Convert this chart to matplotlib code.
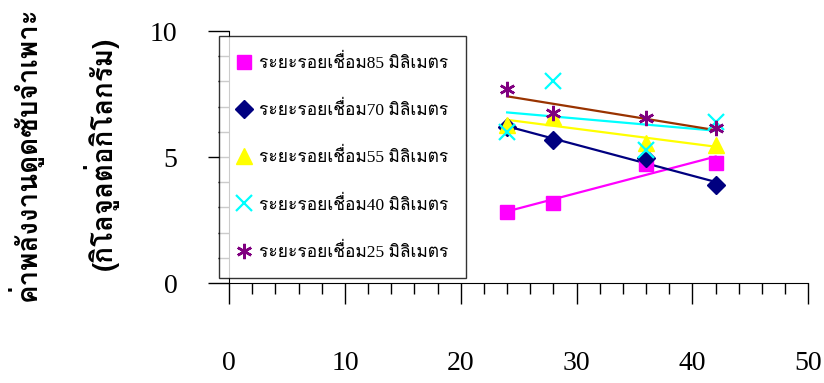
import numpy as np
import matplotlib
matplotlib.use("Agg")
import matplotlib.pyplot as plt
from matplotlib import font_manager
from matplotlib.ft2font import FT2Font

# Weld spacing series: lap length (x) vs specific absorbed energy (kJ/kg)
x_vals = [24, 28, 36, 42]
e85 = [2.83, 3.16, 4.72, 4.77]
e70 = [6.20, 5.67, 4.95, 3.89]
e55 = [6.27, 6.60, 5.54, 5.48]
e40 = [6.00, 8.03, 5.28, 6.40]
e25 = [7.70, 6.73, 6.53, 6.14]

labels = [
    "ระยะรอยเชื่อม85 มิลิเมตร",
    "ระยะรอยเชื่อม70 มิลิเมตร",
    "ระยะรอยเชื่อม55 มิลิเมตร",
    "ระยะรอยเชื่อม40 มิลิเมตร",
    "ระยะรอยเชื่อม25 มิลิเมตร",
]
ylabel_1 = "ค่าพลังงานดูดซับจำเพาะ"
ylabel_2 = "(กิโลจูลต่อกิโลกรัม)"
x_ticks = [0, 10, 20, 30, 40, 50]
y_ticks = [0, 5, 10]


def thai_families():
    found = []
    for f in font_manager.fontManager.ttflist:
        try:
            cmap = FT2Font(f.fname).get_charmap()
        except Exception:
            continue
        if 0x0E01 in cmap and 0x0E40 in cmap and f.name not in found:
            found.append(f.name)
    return found


thai = thai_families()
serif_list = ["Liberation Serif"] + thai + ["DejaVu Sans"]
bold_list = thai + ["DejaVu Sans"]
plt.rcParams["font.family"] = serif_list

fig = plt.figure(figsize=(8.24, 3.83), dpi=100)
ax = fig.add_axes([0.278, 0.261, 0.703, 0.658])

series = [e85, e70, e55, e40, e25]
colors = ["#FF00FF", "#000080", "#FFFF00", "#00FFFF", "#800080"]
trend_colors = ["#FF00FF", "#000080", "#FFFF00", "#00FFFF", "#993300"]
markers = ["s", "D", "^", "x", "*6"]
msizes = [10, 9, 11, 11, 11]

xs = np.array(x_vals, dtype=float)
handles = []
for ys, c, tc, m, ms, lab in zip(series, colors, trend_colors, markers, msizes, labels):
    ys = np.array(ys, dtype=float)
    k, b = np.polyfit(xs, ys, 1)
    ax.plot([xs.min(), xs.max()], [k * xs.min() + b, k * xs.max() + b],
            color=tc, lw=1.6, zorder=2)
    if m == "x":
        h, = ax.plot(xs, ys, ls="none", marker="x", ms=ms, mew=1.6, color=c,
                     zorder=3, label=lab)
    elif m == "*6":
        h, = ax.plot(xs, ys, ls="none", marker=(6, 2, 0), ms=ms, mew=1.8,
                     color=c, zorder=3, label=lab)
    else:
        h, = ax.plot(xs, ys, ls="none", marker=m, ms=ms, color=c, mec=c,
                     zorder=3, label=lab)
    handles.append(h)

ax.set_xlim(0, 50)
ax.set_ylim(0, 10)
ax.spines["top"].set_visible(False)
ax.spines["right"].set_visible(False)
ax.spines["left"].set_position(("data", 0))
ax.spines["bottom"].set_position(("data", 0))

ax.set_xticks(x_ticks)
ax.set_xticks(np.arange(0, 51, 2), minor=True)
ax.set_yticks(y_ticks)
ax.set_yticks(np.arange(0, 11, 1), minor=True)
ax.tick_params(axis="x", which="major", direction="out", length=15, width=1,
               pad=34, labelsize=20)
ax.tick_params(axis="x", which="minor", direction="out", length=8, width=1)
ax.tick_params(axis="y", which="major", direction="out", length=15, width=1,
               pad=22, labelsize=20)
ax.tick_params(axis="y", which="minor", direction="out", length=8, width=1)

leg = ax.legend(handles=handles, loc="upper left", bbox_to_anchor=(-0.017, 0.98),
                frameon=True, fancybox=False, shadow=False, fontsize=12.5,
                labelspacing=1.68, handlelength=0.8, handletextpad=0.5,
                borderpad=1.0, borderaxespad=0)
leg.get_frame().set_edgecolor("black")
leg.get_frame().set_linewidth(1.0)
leg.set_zorder(5)

fig.text(0.030, 0.60, ylabel_1, rotation=90, ha="center", va="center",
         fontsize=20, fontweight="bold", family=bold_list)
fig.text(0.122, 0.60, ylabel_2, rotation=90, ha="center", va="center",
         fontsize=20, fontweight="bold", family=bold_list)

fig.savefig("out.png", dpi=100)
